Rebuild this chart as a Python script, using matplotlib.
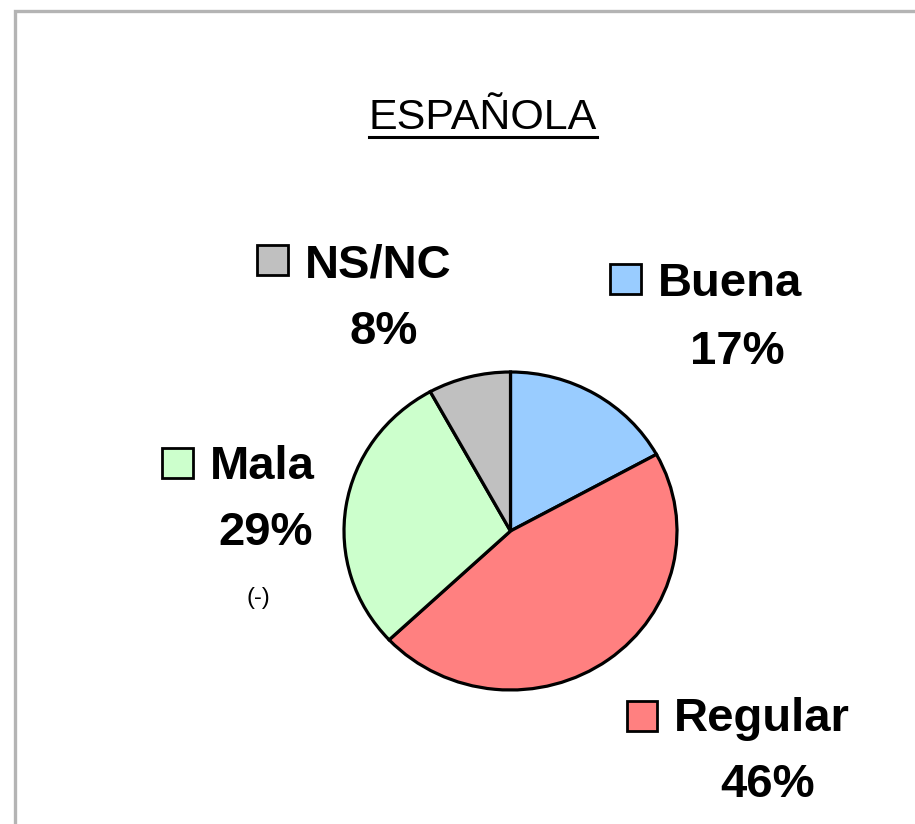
import matplotlib
matplotlib.use("Agg")
import matplotlib.pyplot as plt
from matplotlib.patches import Rectangle
from matplotlib.lines import Line2D

plt.rcParams['font.family'] = ['Liberation Sans', 'DejaVu Sans']

title = "ESPAÑOLA"
categories = ["Buena", "Regular", "Mala", "NS/NC"]
values = [17, 46, 29, 8]
pct_labels = ["17%", "46%", "29%", "8%"]
colors = ["#99CCFF", "#FF8080", "#CCFFCC", "#C0C0C0"]
note_mala = "(-)"

W, H = 915, 824
fig = plt.figure(figsize=(W / 100, H / 100), dpi=100)
fig.patch.set_facecolor("white")

def fx(x):
    return x / W

def fy(y):
    return 1 - y / H

# outer frame (gray, continuing past right/bottom edges)
fig.patches.append(Rectangle((fx(14.5), fy(H + 20)), fx(W + 40), (H + 20 - 10.5) / H,
                             transform=fig.transFigure, fill=False,
                             ec="#B4B4B4", lw=2.4, clip_on=False))

# pie axes: pixel centre (510.5, 531), radii 166.5 x 159 (slightly wide)
cx, cy, rx, ry = 510.5, 531, 166.5, 159
lim = 1.05
ax = fig.add_axes([fx(cx - rx * lim), fy(cy + ry * lim), 2 * rx * lim / W, 2 * ry * lim / H])
wedges, _ = ax.pie(values, colors=colors, startangle=90, counterclock=False,
                   wedgeprops=dict(edgecolor="black", linewidth=2.3))
ax.set_aspect("auto")
ax.set_xlim(-lim, lim)
ax.set_ylim(-lim, lim)
ax.axis("off")

# labels: square box, name, percentage line
label_pos = {
    # name: (square x0, y0, x1, y1, name_x, name_base, pct_cx, pct_base)
    "NS/NC": (257, 245, 288, 275, 305, 277, 384, 344),
    "Buena": (610, 264, 641, 294, 658, 296, 737, 364),
    "Mala": (162, 448, 193, 478, 210, 479, 266, 545),
    "Regular": (627, 701, 657, 731, 674, 731, 768, 797),
}
fs = 34
for cat, pct, col in zip(categories, pct_labels, colors):
    x0, y0, x1, y1, nx, nb, pcx, pb = label_pos[cat]
    fig.patches.append(Rectangle((fx(x0), fy(y1)), (x1 - x0) / W, (y1 - y0) / H,
                                 transform=fig.transFigure, fc=col, ec="black", lw=2))
    fig.text(fx(nx), fy(nb), cat, fontsize=fs, fontweight="bold",
             ha="left", va="baseline")
    fig.text(fx(pcx), fy(pb), pct, fontsize=fs, fontweight="bold",
             ha="center", va="baseline")

fig.text(fx(258), fy(604), note_mala, fontsize=17, ha="center", va="baseline")

# title with underline
t = fig.text(fx(483), fy(129), title, fontsize=31, ha="center", va="baseline")
fig.canvas.draw()
bb = t.get_window_extent(renderer=fig.canvas.get_renderer())
uy = fy(137)
fig.lines.append(Line2D([bb.x0 / W, bb.x1 / W], [uy, uy], transform=fig.transFigure,
                        color="black", lw=2.2))

fig.savefig("out.png", dpi=100, facecolor="white")
